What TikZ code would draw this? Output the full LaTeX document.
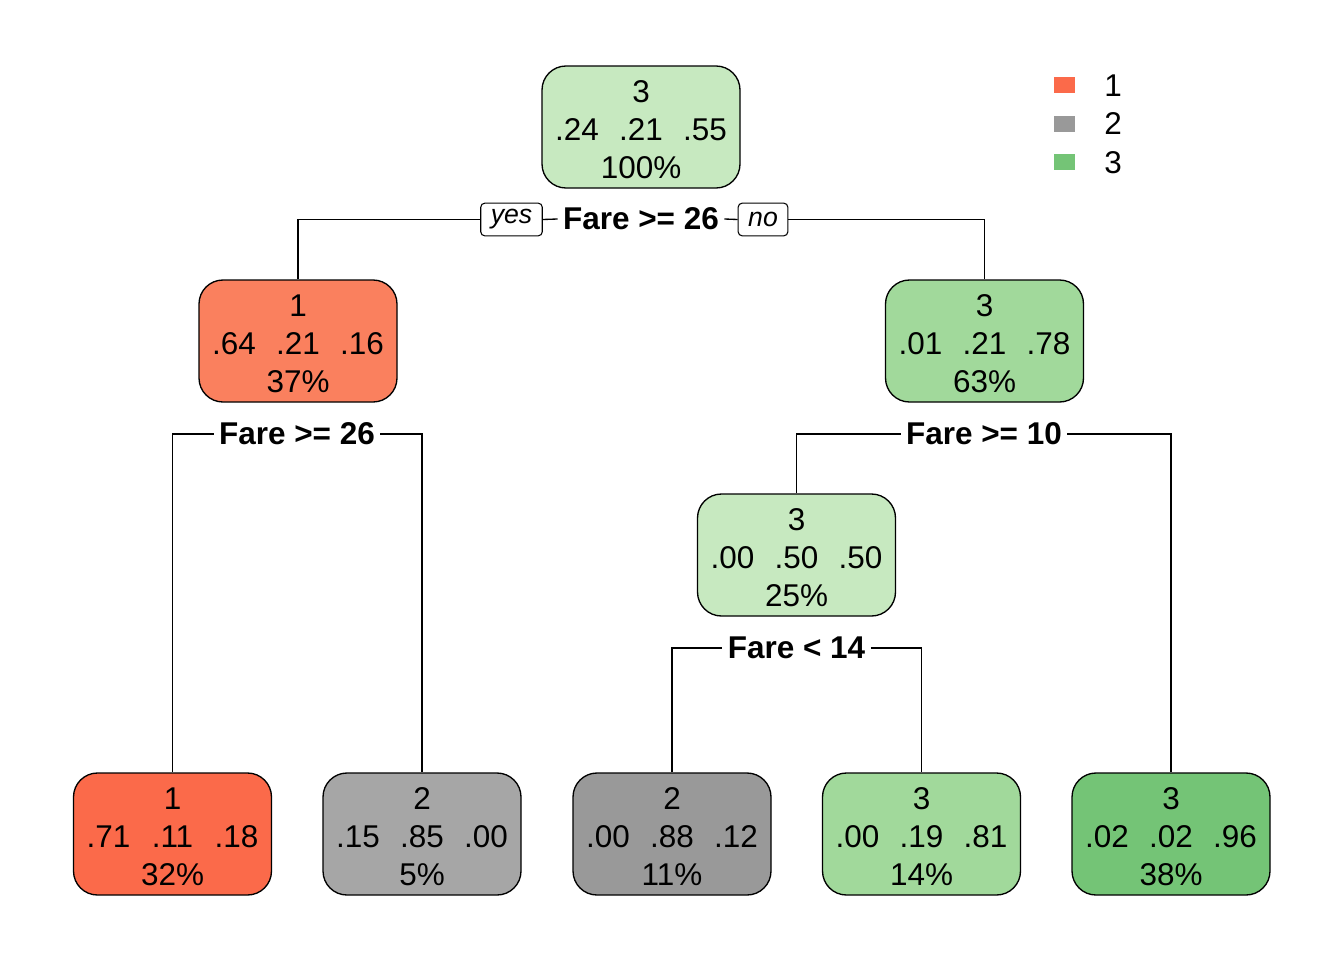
\documentclass[tikz,border=0pt]{standalone}
\usepackage{fontspec}
\setmainfont{Liberation Sans}
\definecolor{red1}{HTML}{FB6A4A}
\definecolor{red2}{HTML}{FA805E}
\definecolor{gray1}{HTML}{A6A6A6}
\definecolor{gray2}{HTML}{999999}
\definecolor{grn1}{HTML}{C7E9C0}
\definecolor{grn2}{HTML}{A1D99B}
\definecolor{grn3}{HTML}{74C476}
\newcommand{\boxtext}[5]{\rule{0pt}{20pt}#1\\\makebox[48pt][c]{#2}\makebox[48pt][c]{#3}\makebox[48pt][c]{#4}\\#5}
\tikzset{
  treebox/.style={draw, line width=1pt, rounded corners=18pt, minimum width=148.5pt,
    minimum height=91.5pt, align=center, inner sep=0pt,
    font=\fontsize{23.6}{28.5}\selectfont},
  splitlab/.style={font=\fontsize{23.6}{28}\selectfont\bfseries, inner xsep=4pt, inner ysep=2pt},
  yesno/.style={draw, line width=0.8pt, rounded corners=3pt, font=\fontsize{20}{22}\selectfont\itshape,
    minimum height=24.5pt, inner xsep=7.5pt, inner ysep=0pt},
  conn/.style={line width=1pt},
  legkey/.style={minimum width=15.5pt, minimum height=12.5pt, inner sep=0pt},
  legtext/.style={font=\fontsize{23.6}{28}\selectfont, inner sep=0pt}
}
\begin{document}
\begin{tikzpicture}[x=0.75pt,y=-0.75pt]
\useasboundingbox (0,0) rectangle (1344,960);
% nodes
\node[treebox, fill=grn1] (root) at (641,127) {\boxtext{3}{.24}{.21}{.55}{100\%}};
\node[treebox, fill=red2] (n2) at (298,341) {\boxtext{1}{.64}{.21}{.16}{37\%}};
\node[treebox, fill=grn2] (n3) at (984.5,341) {\boxtext{3}{.01}{.21}{.78}{63\%}};
\node[treebox, fill=grn1] (n7) at (796.5,555) {\boxtext{3}{.00}{.50}{.50}{25\%}};
\node[treebox, fill=red1] (L1) at (172.5,834) {\boxtext{1}{.71}{.11}{.18}{32\%}};
\node[treebox, fill=gray1] (L2) at (422,834) {\boxtext{2}{.15}{.85}{.00}{5\%}};
\node[treebox, fill=gray2] (L3) at (672,834) {\boxtext{2}{.00}{.88}{.12}{11\%}};
\node[treebox, fill=grn2] (L4) at (921.5,834) {\boxtext{3}{.00}{.19}{.81}{14\%}};
\node[treebox, fill=grn3] (L5) at (1171,834) {\boxtext{3}{.02}{.02}{.96}{38\%}};
% split labels
\node[splitlab] (s1) at (641,219) {Fare >= 26};
\node[yesno] (yes) at (511.5,219.5) {yes};
\node[yesno] (no) at (763,219.5) {no};
\node[splitlab] (s2) at (297,434) {Fare >= 26};
\node[splitlab] (s3) at (984,434) {Fare >= 10};
\node[splitlab] (s4) at (796.5,648) {Fare < 14};
% connectors
\draw[conn] (n2.north) |- (yes.west);
\draw[conn] (yes.east) -- (s1.west);
\draw[conn] (s1.east) -- (no.west);
\draw[conn] (no.east) -| (n3.north);
\draw[conn] (L1.north) |- (s2.west);
\draw[conn] (s2.east) -| (L2.north);
\draw[conn] (n7.north) |- (s3.west);
\draw[conn] (s3.east) -| (L5.north);
\draw[conn] (L3.north) |- (s4.west);
\draw[conn] (s4.east) -| (L4.north);
% legend
\node[legkey, fill=red1] (k1) at (1064.5,85) {};
\node[legkey, fill=gray2] (k2) at (1064.5,124) {};
\node[legkey, fill=grn3] (k3) at (1064.5,162) {};
\node[legtext] (t1) at (1113,86) {1};
\node[legtext] (t2) at (1113,124) {2};
\node[legtext] (t3) at (1113,163) {3};
\end{tikzpicture}
\end{document}
